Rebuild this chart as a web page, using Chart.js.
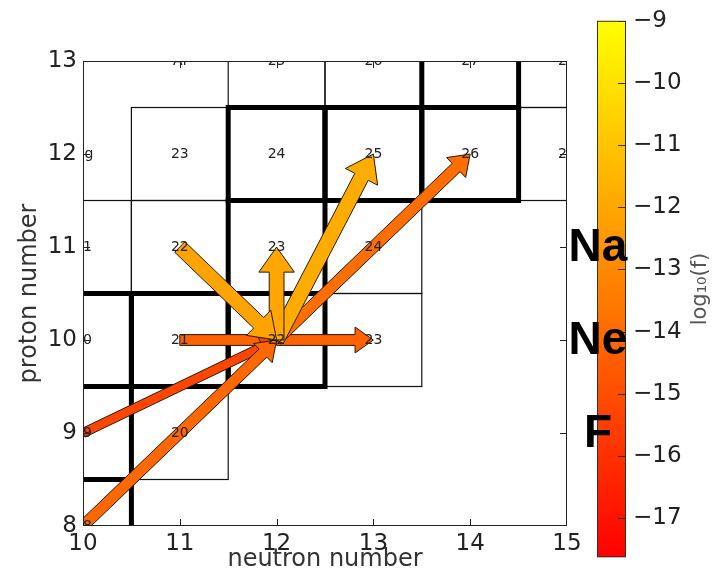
<!DOCTYPE html>
<html>
<head>
<meta charset="utf-8">
<script src="https://cdn.jsdelivr.net/npm/chart.js@4.4.1/dist/chart.umd.min.js"></script>
<style>
  html, body { margin: 0; padding: 0; background: #fff; }
  #wrap { position: relative; width: 714px; height: 578px; }
  #barCanvas { position: absolute; left: 560px; top: 0; }
  #mainCanvas { position: absolute; left: 0; top: 0; }
</style>
</head>
<body>
<div id="wrap">
  <canvas id="barCanvas" width="154" height="578"></canvas>
  <canvas id="mainCanvas" width="714" height="578"></canvas>
</div>
<script>
// ===============================
// data
// ===============================
const xTicks = [10, 11, 12, 13, 14, 15];
const yTicks = [8, 9, 10, 11, 12, 13];
const cbTicks = [-17, -16, -15, -14, -13, -12, -11, -10, -9];
const cbMin = -17.63;
const cbMax = -9;

// isotopes on the chart (neutron number, proton number, mass number)
const isoN = [10, 10, 11, 10, 11, 12, 13, 10, 11, 12, 13, 11, 12, 13, 14, 15, 12, 13, 14, 15];
const isoZ = [8, 9, 9, 10, 10, 10, 10, 11, 11, 11, 11, 12, 12, 12, 12, 12, 13, 13, 13, 13];
const isoA = [18, 19, 20, 20, 21, 22, 23, 21, 22, 23, 24, 23, 24, 25, 26, 27, 25, 26, 27, 28];

// stable isotopes (thick boxes)
const stableN = [10, 10, 10, 11, 12, 12, 12, 13, 14, 14];
const stableZ = [8, 9, 10, 10, 10, 11, 12, 12, 12, 13];

// element names written left of the first box of a row
const elemNames = ["Mg", "Al"];
const elemN = [10, 11];
const elemZ = [12, 13];

// big element labels next to the colour bar
const sideNames = ["Na", "Ne", "F"];
const sideZ = [11, 10, 9];

// reaction flows (arrows), coloured by log10(f)
const flowFromN = [11, 10, 10, 12, 12, 12, 12, 11];
const flowFromZ = [10, 9, 8, 10, 10, 10, 10, 11];
const flowToN   = [12, 12, 12, 13, 14, 13, 12, 12];
const flowToZ   = [10, 10, 10, 10, 12, 12, 11, 10];
const flowLog   = [-14.3, -15.3, -14.1, -14.3, -13.9, -11.8, -12.0, -12.1];

// ===============================
// helpers
// ===============================
const FONT = "DejaVu Sans";
Chart.defaults.font.family = FONT;

function autumnFrac(v) {
  return Math.min(1, Math.max(0, (v - cbMin) / (cbMax - cbMin)));
}
function autumn(v) {
  return `rgb(255, ${Math.round(255 * autumnFrac(v))}, 0)`;
}

function cellRect(ctx, x, y, n, z) {
  const x0 = x.getPixelForValue(n - 0.5), x1 = x.getPixelForValue(n + 0.5);
  const y0 = y.getPixelForValue(z + 0.5), y1 = y.getPixelForValue(z - 0.5);
  ctx.strokeRect(x0, y0, x1 - x0, y1 - y0);
}

function drawArrow(ctx, sx, sy, ex, ey, color, t) {
  const dx = ex - sx, dy = ey - sy;
  const len = Math.hypot(dx, dy);
  const ux = dx / len, uy = dy / len;
  const nx = -uy, ny = ux;
  const sw = 2.5 + 7.5 * t;    // shaft half width
  const hw = sw * 2.4;         // head half width
  const hl = sw * 3.4;         // head length
  const bx = ex - ux * hl, by = ey - uy * hl;
  ctx.beginPath();
  ctx.moveTo(sx + nx * sw, sy + ny * sw);
  ctx.lineTo(bx + nx * sw, by + ny * sw);
  ctx.lineTo(bx + nx * hw, by + ny * hw);
  ctx.lineTo(ex, ey);
  ctx.lineTo(bx - nx * hw, by - ny * hw);
  ctx.lineTo(bx - nx * sw, by - ny * sw);
  ctx.lineTo(sx - nx * sw, sy - ny * sw);
  ctx.closePath();
  ctx.fillStyle = color;
  ctx.fill();
  ctx.strokeStyle = "#2a1a0a";
  ctx.lineWidth = 1;
  ctx.stroke();
}

// ===============================
// main chart plugin: boxes, labels, arrows
// ===============================
const nuclidePlugin = {
  id: "nuclides",
  beforeDatasetsDraw(chart) {
    const { ctx, chartArea: a, scales: { x, y } } = chart;
    ctx.save();
    ctx.beginPath();
    ctx.rect(a.left, a.top, a.right - a.left, a.bottom - a.top);
    ctx.clip();

    // thin boxes
    ctx.strokeStyle = "#111";
    ctx.lineWidth = 1.2;
    isoN.forEach((n, i) => cellRect(ctx, x, y, n, isoZ[i]));

    // thick boxes for stable isotopes
    ctx.strokeStyle = "#000";
    ctx.lineWidth = 5;
    ctx.lineJoin = "miter";
    stableN.forEach((n, i) => cellRect(ctx, x, y, n, stableZ[i]));

    // arrows
    flowLog.forEach((v, i) => {
      drawArrow(ctx,
        x.getPixelForValue(flowFromN[i]), y.getPixelForValue(flowFromZ[i]),
        x.getPixelForValue(flowToN[i]), y.getPixelForValue(flowToZ[i]),
        autumn(v), autumnFrac(v));
    });

    // labels
    ctx.font = `14px "${FONT}"`;
    ctx.fillStyle = "#222";
    ctx.textAlign = "center";
    ctx.textBaseline = "middle";
    isoN.forEach((n, i) => {
      ctx.fillText(String(isoA[i]), x.getPixelForValue(n), y.getPixelForValue(isoZ[i]));
    });
    elemNames.forEach((s, i) => {
      ctx.fillText(s, x.getPixelForValue(elemN[i]), y.getPixelForValue(elemZ[i]));
    });
    ctx.restore();

    // frame and inward ticks
    ctx.save();
    ctx.strokeStyle = "#222";
    ctx.lineWidth = 1;
    ctx.strokeRect(a.left + 0.5, a.top + 0.5, a.right - a.left - 1, a.bottom - a.top - 1);
    ctx.beginPath();
    xTicks.slice(1, -1).forEach(v => {
      const px = Math.round(x.getPixelForValue(v)) + 0.5;
      ctx.moveTo(px, a.bottom); ctx.lineTo(px, a.bottom - 7);
      ctx.moveTo(px, a.top); ctx.lineTo(px, a.top + 7);
    });
    yTicks.slice(1, -1).forEach(v => {
      const py = Math.round(y.getPixelForValue(v)) + 0.5;
      ctx.moveTo(a.left, py); ctx.lineTo(a.left + 7, py);
      ctx.moveTo(a.right, py); ctx.lineTo(a.right - 7, py);
    });
    ctx.stroke();

    // big element names
    ctx.font = `bold 46px "Liberation Sans"`;
    ctx.fillStyle = "#000";
    ctx.textAlign = "center";
    ctx.textBaseline = "middle";
    sideNames.forEach((s, i) => {
      ctx.fillText(s, a.right + 31, y.getPixelForValue(sideZ[i]) + 1);
    });
    ctx.restore();
  }
};

// ===============================
// colour bar plugin
// ===============================
const colorbarPlugin = {
  id: "colorbar",
  beforeDatasetsDraw(chart) {
    const { ctx, chartArea: a, scales: { y } } = chart;
    const yTop = y.getPixelForValue(cbMax), yBot = y.getPixelForValue(cbMin);
    const g = ctx.createLinearGradient(0, yBot, 0, yTop);
    g.addColorStop(0, autumn(cbMin));
    g.addColorStop(1, autumn(cbMax));
    ctx.save();
    ctx.fillStyle = g;
    ctx.fillRect(a.left, yTop, a.right - a.left, yBot - yTop);

    ctx.strokeStyle = "#3a3020";
    ctx.lineWidth = 1;
    ctx.beginPath();
    y.ticks.forEach(t => {
      const py = Math.round(y.getPixelForValue(t.value)) + 0.5;
      ctx.moveTo(a.right - 8, py); ctx.lineTo(a.right, py);
    });
    ctx.stroke();
    ctx.strokeRect(a.left + 0.5, yTop + 0.5, a.right - a.left - 1, yBot - yTop - 1);

    ctx.translate(141, (yTop + yBot) / 2);
    ctx.rotate(-Math.PI / 2);
    ctx.font = `21px "${FONT}"`;
    ctx.fillStyle = "#555";
    ctx.textAlign = "center";
    ctx.textBaseline = "middle";
    ctx.fillText("log\u2081\u2080(f)", 0, 0);
    ctx.restore();
  }
};

// ===============================
// charts
// ===============================
new Chart(document.getElementById("barCanvas"), {
  type: "scatter",
  data: { datasets: [] },
  options: {
    responsive: false,
    animation: false,
    devicePixelRatio: 1,
    layout: { padding: { left: 37, top: 19, bottom: 12, right: 0 } },
    plugins: { legend: { display: false }, tooltip: { enabled: false } },
    scales: {
      x: { display: false, min: 0, max: 1 },
      y: {
        position: "right",
        min: cbMin,
        max: cbMax,
        afterBuildTicks: s => { s.ticks = cbTicks.map(v => ({ value: v })); },
        afterFit: s => { s.width = 88; },
        grid: { display: false, drawTicks: false },
        border: { display: false },
        ticks: {
          padding: 7,
          color: "#222",
          font: { size: 23 },
          callback: v => (v < 0 ? "\u2212" : "") + Math.abs(v)
        }
      }
    }
  },
  plugins: [colorbarPlugin]
});

new Chart(document.getElementById("mainCanvas"), {
  type: "scatter",
  data: { datasets: [] },
  options: {
    responsive: false,
    animation: false,
    devicePixelRatio: 1,
    layout: { padding: { top: 61, right: 147, bottom: 0, left: 0 } },
    plugins: { legend: { display: false }, tooltip: { enabled: false } },
    scales: {
      x: {
        type: "linear",
        min: 10,
        max: 15,
        afterBuildTicks: s => { s.ticks = xTicks.map(v => ({ value: v })); },
        afterFit: s => { s.height = 52; },
        grid: { display: false, drawTicks: false },
        border: { display: false },
        ticks: { padding: 4, color: "#222", font: { size: 23 } },
        title: { display: true, text: "neutron number", color: "#333", font: { size: 24 }, padding: { top: 0, bottom: 4 } }
      },
      y: {
        type: "linear",
        min: 8,
        max: 13,
        afterBuildTicks: s => { s.ticks = yTicks.map(v => ({ value: v })); },
        afterFit: s => { s.width = 83; },
        grid: { display: false, drawTicks: false },
        border: { display: false },
        ticks: { padding: 6, color: "#222", font: { size: 23 } },
        title: { display: true, text: "proton number", color: "#333", font: { size: 24 }, padding: { top: 15, bottom: 0 } }
      }
    }
  },
  plugins: [nuclidePlugin]
});
</script>
</body>
</html>
